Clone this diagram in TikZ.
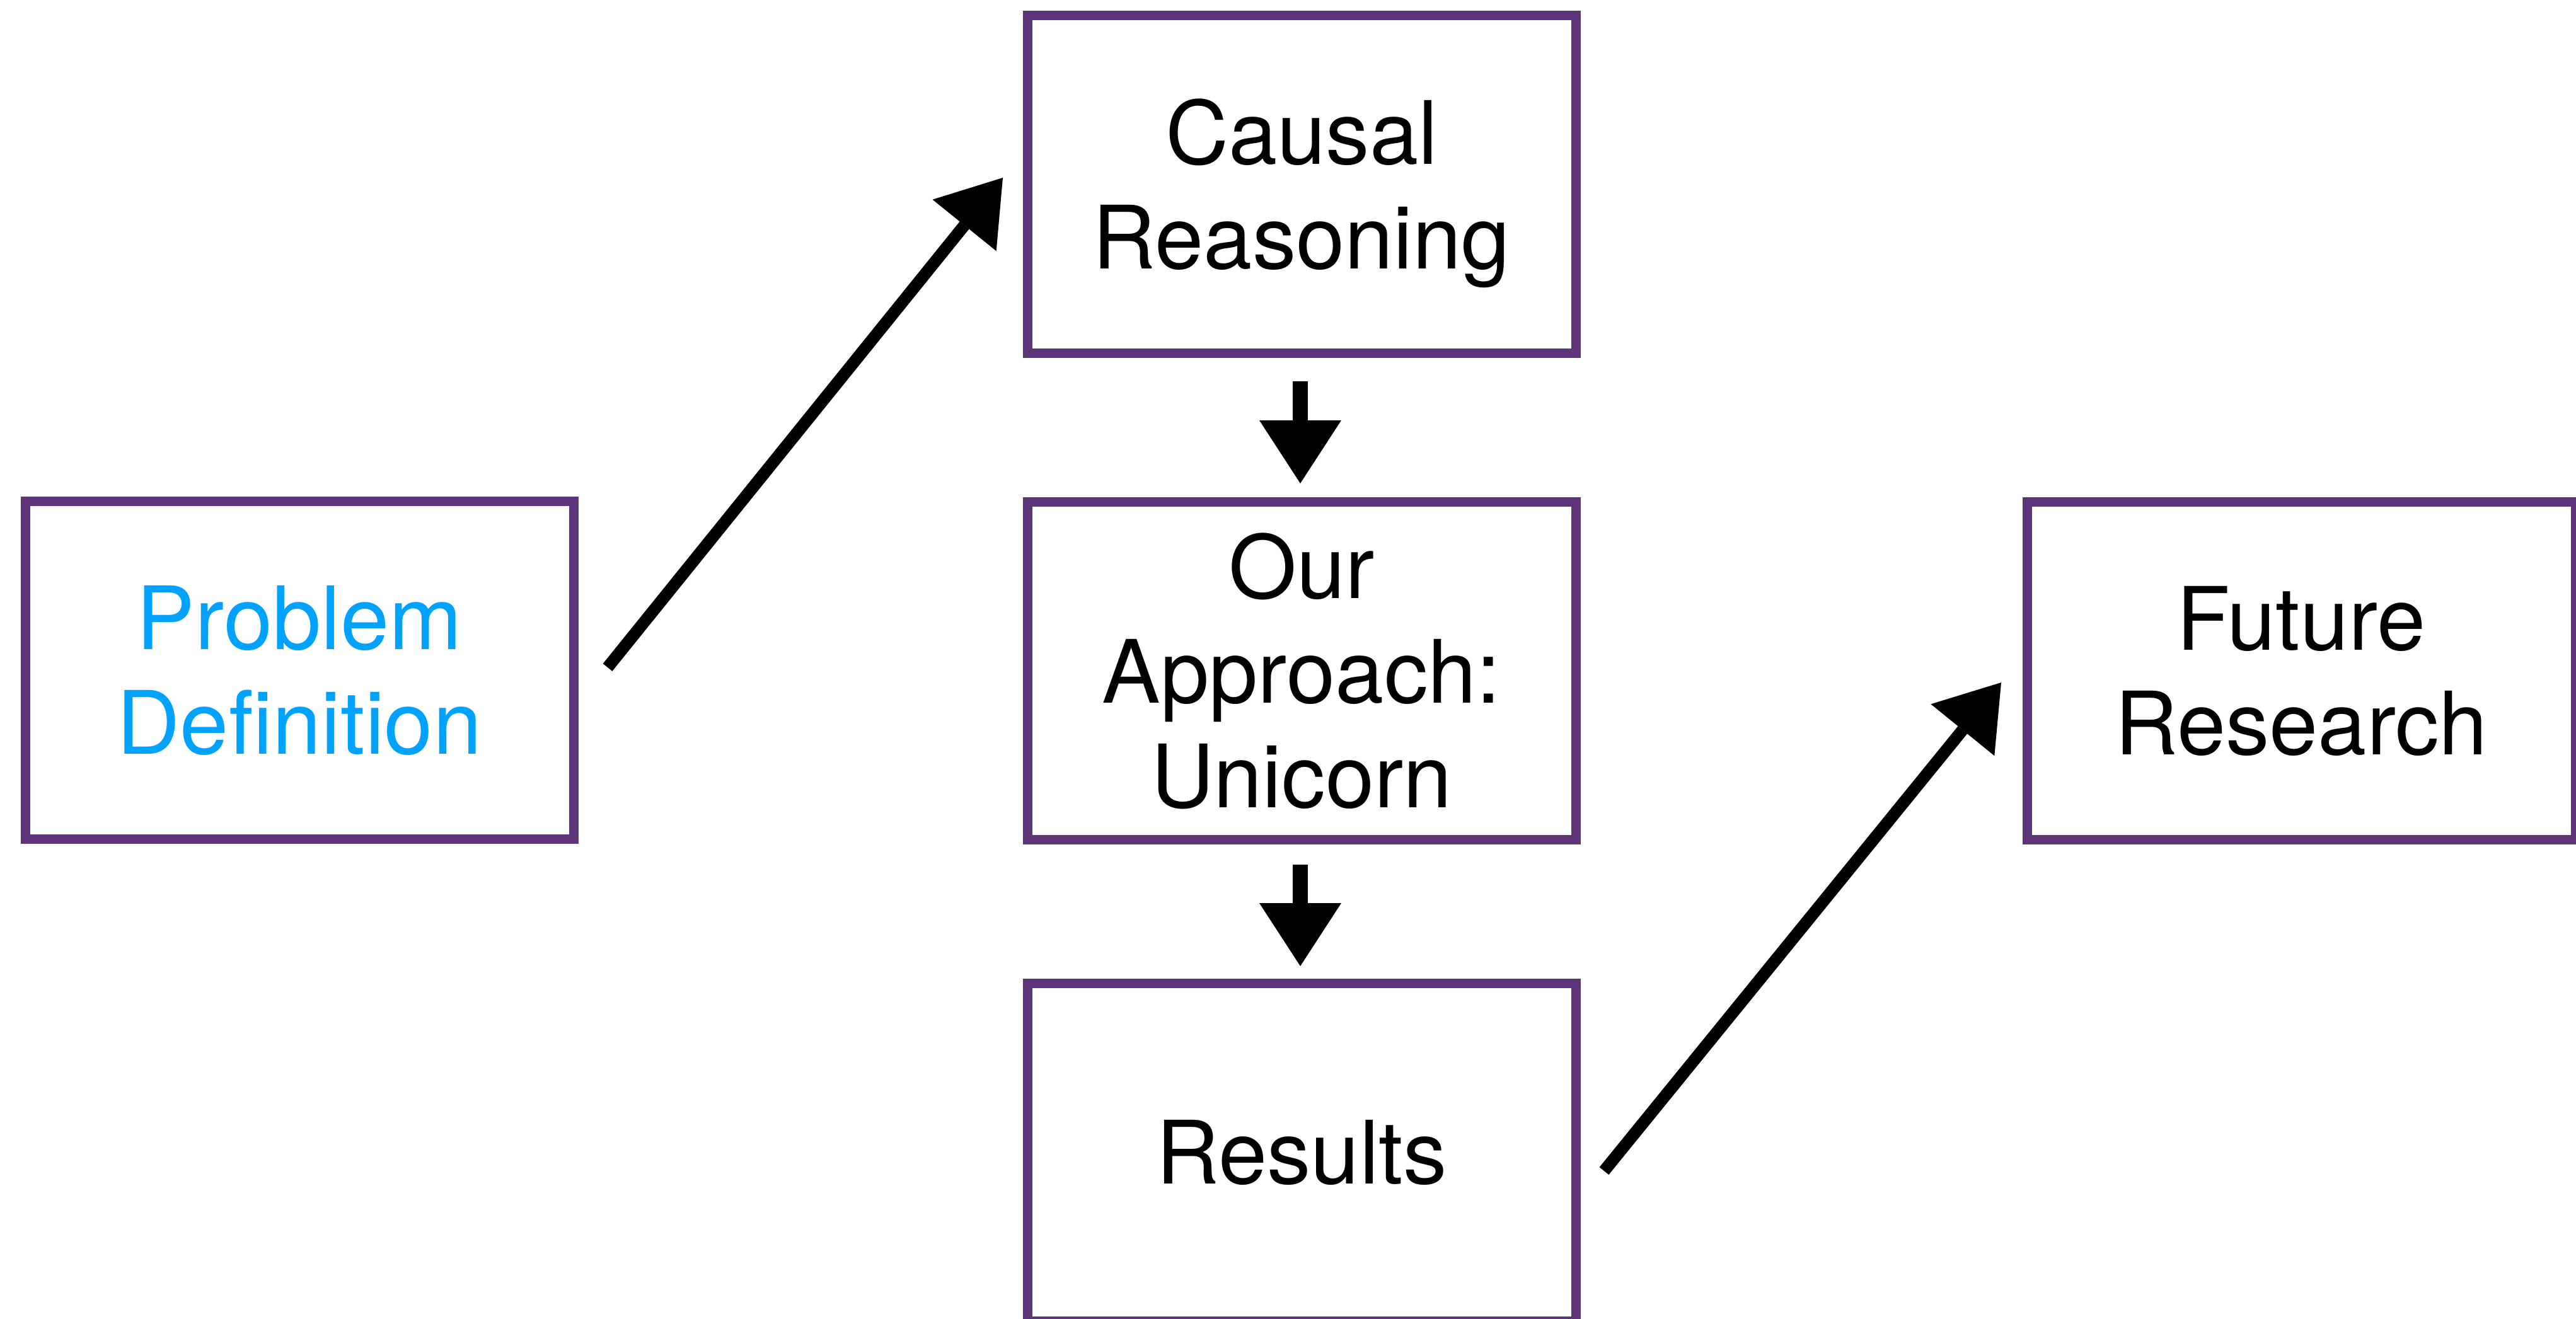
\documentclass[tikz,border=0pt]{standalone}
\usepackage{fontspec}
\setmainfont{TeX Gyre Heros}
\usetikzlibrary{arrows.meta}
\definecolor{boxpurple}{RGB}{94,52,122}
\definecolor{titleblue}{RGB}{0,162,255}
\begin{document}
\begin{tikzpicture}[x=1cm,y=1cm,
  stage/.style={draw=boxpurple, line width=0.15cm, minimum width=8.70cm,
    minimum height=5.36cm, inner sep=0pt, align=center, text depth=0pt,
    font=\fontsize{39.5}{47.2}\selectfont},
  flow/.style={line width=0.19cm,
    -{Triangle[length=0.97cm,width=1.30cm,line width=0pt]}},
  drop/.style={line width=0.24cm,
    -{Triangle[length=1.00cm,width=1.30cm,line width=0pt]}}]
  \useasboundingbox (0,0) rectangle (40.87,-20.92);
  \fill[white] (0,0) rectangle (40.87,-20.92);

  % the five stages
  \node[stage, text=titleblue] (pd) at (4.75,-10.63) {Problem\\Definition};
  \node[stage] (cr) at (20.65,-2.92)  {Causal\\Reasoning};
  \node[stage] (oa) at (20.65,-10.64) {Our\\Approach:\\Unicorn};
  \node[stage] (rs) at (20.65,-18.28) {Results};
  \node[stage] (fr) at (36.51,-10.64) {Future\\Research};

  % free ends of the connectors, set off from their boxes
  \coordinate (pdout) at ([xshift=0.465cm,yshift=0.04cm]pd.east);
  \coordinate (crin)  at ([xshift=-0.315cm,yshift=0.10cm]cr.west);
  \coordinate (crout) at ([xshift=-0.02cm,yshift=-0.375cm]cr.south);
  \coordinate (oain)  at ([xshift=-0.02cm,yshift=0.215cm]oa.north);
  \coordinate (oaout) at ([xshift=-0.02cm,yshift=-0.325cm]oa.south);
  \coordinate (rsin)  at ([xshift=-0.02cm,yshift=0.195cm]rs.north);
  \coordinate (rsout) at ([xshift=0.375cm,yshift=-0.30cm]rs.east);
  \coordinate (frin)  at ([xshift=-0.335cm,yshift=-0.19cm]fr.west);

  % connectors
  \draw[flow] (pdout) -- (crin);
  \draw[drop] (crout) -- (oain);
  \draw[drop] (oaout) -- (rsin);
  \draw[flow] (rsout) -- (frin);
\end{tikzpicture}
\end{document}
